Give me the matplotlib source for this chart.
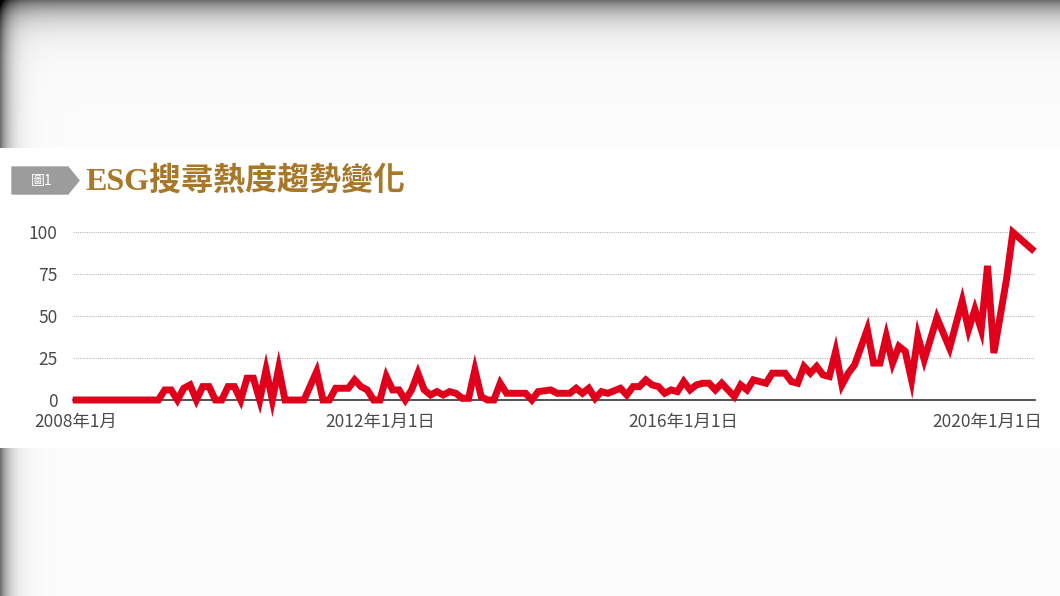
import numpy as np
import matplotlib
matplotlib.use('Agg')
import matplotlib.pyplot as plt
from matplotlib.patches import Polygon

plt.rcParams['font.family'] = ['Noto Sans CJK TC', 'DejaVu Sans']

# 月份索引 (0 = 2008年1月) 與搜尋熱度
months = [0, 13, 14, 15, 16, 17, 18, 19, 20, 21, 22, 23, 24, 25, 26, 27, 28, 29, 30, 31,
          32, 33, 36, 38, 39, 40, 41, 43, 44, 45, 46, 47, 48, 49, 50, 51, 52, 53, 54, 55,
          56, 57, 58, 59, 60, 61, 62, 63, 64, 65, 66, 67, 68, 69, 71, 72, 73, 75, 76, 78,
          79, 80, 81, 82, 83, 84, 86, 87, 88, 89, 90, 91, 92, 93, 94, 95, 96, 97, 98, 99,
          100, 101, 102, 104, 105, 106, 107, 109, 110, 112, 113, 114, 115, 116, 117, 118, 119, 120, 121, 122,
          123, 125, 126, 127, 128, 129, 130, 131, 132, 133, 134, 136, 138, 140, 141, 142, 143, 144, 145, 147,
          148, 151]
values = [0, 0, 6, 6, 0, 7, 9, 0, 8, 8, 0, 0, 8, 8, 0, 13, 13, 0, 18, 0,
          19, 0, 0, 17, 0, 0, 7, 7, 12, 8, 6, 0, 0, 14, 6, 6, 0, 6, 16, 6,
          3, 5, 3, 5, 4, 1, 1, 18, 2, 0, 0, 10, 4, 4, 4, 0, 5, 6, 4, 4,
          7, 4, 7, 1, 5, 4, 7, 3, 8, 8, 12, 9, 8, 4, 6, 5, 11, 6, 9, 10,
          10, 6, 10, 2, 9, 6, 12, 10, 16, 16, 11, 10, 20, 16, 20, 15, 14, 29, 9, 16,
          21, 42, 22, 22, 38, 22, 32, 29, 12, 38, 24, 49, 31, 59, 42, 54, 42, 80, 28, 72,
          100, 90]

tick_pos = [0, 48, 96, 144]
tick_labels = ['2008年1月', '2012年1月1日', '2016年1月1日', '2020年1月1日']
y_ticks = [0, 25, 50, 75, 100]

W, H = 1060, 596
fig = plt.figure(figsize=(W / 100, H / 100), dpi=100)

# 背景 (灰色漸層邊緣 + 白色卡片)
yy, xx = np.mgrid[0:H, 0:W]
bg = 0.985 - 0.55 * np.exp(-yy / 16.0)
left = 0.55 * np.exp(-xx / 9.0)
bg = bg - left
bg[148:448, :] = 1.0
bg = np.clip(bg, 0, 1)
bg_ax = fig.add_axes([0, 0, 1, 1])
bg_ax.imshow(bg, cmap='gray', vmin=0, vmax=1, aspect='auto', interpolation='bilinear')
bg_ax.axis('off')

# 標題
arrow = Polygon([[12 / W, 1 - 167 / H], [68 / W, 1 - 167 / H], [79 / W, 1 - 180.5 / H],
                 [68 / W, 1 - 194 / H], [12 / W, 1 - 194 / H]],
                closed=True, transform=fig.transFigure, color='#9c9c9c', zorder=3)
fig.patches.append(arrow)
fig.text(42 / W, 1 - 181 / H, '圖1', color='white', fontsize=10, ha='center', va='center')
fig.text(85 / W, 1 - 181 / H, 'ESG搜尋熱度趨勢變化', color='#a8782a', fontsize=23,
         fontweight='bold', ha='left', va='center',
         family=['Liberation Serif', 'Noto Sans CJK TC'])

ax = fig.add_axes([73 / W, 1 - 400 / H, (1035 - 73) / W, (400 - 232.3) / H])
ax.set_facecolor('none')
ax.plot(months, values, color='#e0001b', linewidth=5, solid_joinstyle='miter',
        clip_on=False, zorder=3)
ax.set_xlim(-0.5, 151.5)
ax.set_ylim(0, 100)
ax.set_yticks(y_ticks)
ax.set_yticklabels([str(v) for v in y_ticks])
ax.set_xticks(tick_pos)
ax.set_xticklabels(tick_labels)
ax.tick_params(axis='both', length=0, labelsize=12.5, labelcolor='#4a4a4a')
ax.tick_params(axis='y', pad=11)
ax.tick_params(axis='x', pad=9)
for v in y_ticks[1:]:
    ax.axhline(v, color='#b8b8b8', linewidth=0.8, linestyle=(0, (1, 1)), zorder=1)
for s in ['top', 'right', 'left']:
    ax.spines[s].set_visible(False)
ax.spines['bottom'].set_color('#333333')
ax.spines['bottom'].set_linewidth(1.2)
ax.spines['bottom'].set_zorder(2)

plt.savefig('out.png', dpi=100)
